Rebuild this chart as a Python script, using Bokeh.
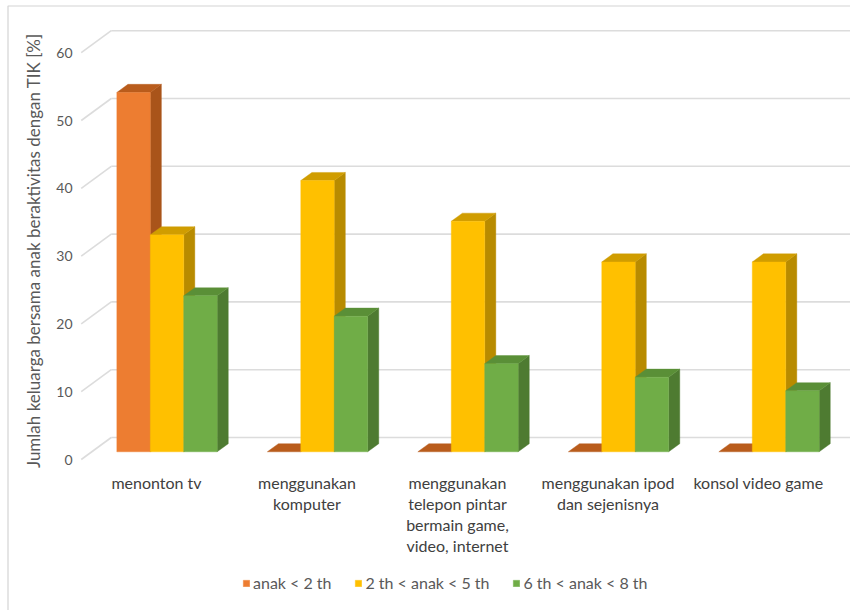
import math
from bokeh.plotting import figure
from bokeh.models import Range1d, Legend, LegendItem, ColumnDataSource
from bokeh.core.properties import value
from bokeh.embed import file_html
from bokeh.resources import INLINE

# ---- data -----------------------------------------------------------------
categories = [
    "menonton tv",
    "menggunakan\nkomputer",
    "menggunakan\ntelepon pintar\nbermain game,\nvideo, internet",
    "menggunakan ipod\ndan sejenisnya",
    "konsol video game",
]
series_names = ["anak < 2 th", "2 th < anak < 5 th", "6 th < anak < 8 th"]
anak_under_2 = [53, 0, 0, 0, 0]
anak_2_to_5 = [32, 40, 34, 28, 28]
anak_6_to_8 = [23, 20, 13, 11, 9]
y_ticks = [0, 10, 20, 30, 40, 50, 60]
y_title = "Jumlah keluarga bersama anak beraktivitas dengan TIK [%]"

# face colours: front, top, side
front_colors = ["#ED7D31", "#FFC000", "#70AD47"]
top_colors = ["#B95C1C", "#D09D00", "#5A8F37"]
side_colors = ["#A9541A", "#B88B00", "#4E7B31"]

# ---- geometry of the oblique 3-D view ---------------------------------------
W, H = 850, 610
CAT_PX = 150.5      # width of one category slot, px
UNIT_PX = 6.78      # px per percentage point
X0_PX = 156         # centre of the first category on the front plane
Y0_PX = 459         # zero level on the front plane


def px_x(px):
    return (px - X0_PX) / CAT_PX


def px_y(py):
    return (Y0_PX - py) / UNIT_PX


DEPTH_DX = 30 / CAT_PX          # full floor depth, in category units
DEPTH_DY = 22 / UNIT_PX         # full floor depth, in value units
BAR_FRONT, BAR_BACK = 0.35, 0.72
BAR_W = 2 / 9                   # three bars fill two thirds of a slot

p = figure(width=W, height=H, output_backend="svg", toolbar_location=None,
           x_range=Range1d(px_x(0), px_x(W)), y_range=Range1d(px_y(H), px_y(0)),
           x_axis_type=None, y_axis_type=None, min_border=0,
           background_fill_color="white", border_fill_color="white")
p.outline_line_color = None
p.grid.visible = False

# outer chart border (left and top edges)
p.line(x=[px_x(7.5), px_x(7.5), px_x(W)], y=[px_y(H), px_y(5.5), px_y(5.5)],
       line_color="#D4D4D4", line_width=1.2)

# back-wall gridlines and left-wall slant lines
grid_color = "#DCDCDC"
p.multi_line(
    xs=[[-0.5 + DEPTH_DX, len(categories) + 0.5] for _ in y_ticks],
    ys=[[v + DEPTH_DY, v + DEPTH_DY] for v in y_ticks],
    line_color=grid_color, line_width=1.6)
p.multi_line(
    xs=[[-0.5, -0.5 + DEPTH_DX] for _ in y_ticks],
    ys=[[v, v + DEPTH_DY] for v in y_ticks],
    line_color=grid_color, line_width=1.6)

# value tick labels on the front plane
p.text(x=[-0.5 - 0.058] * len(y_ticks), y=y_ticks, text=[str(v) for v in y_ticks],
       text_align="right", text_baseline="middle", text_color="#595959",
       text_font=value("Lato"), text_font_size="14px")

# rotated value-axis title
p.text(x=[px_x(33)], y=[30.8], text=[y_title], angle=math.pi / 2,
       text_align="center", text_baseline="middle", text_color="#595959",
       text_font=value("Lato"), text_font_size="17px")

# ---- 3-D columns --------------------------------------------------------------
series = [anak_under_2, anak_2_to_5, anak_6_to_8]
fx, fy = BAR_FRONT * DEPTH_DX, BAR_FRONT * DEPTH_DY
bx, by = BAR_BACK * DEPTH_DX, BAR_BACK * DEPTH_DY

xs, ys, fills = [], [], []
legend_index = {}
for i in range(len(categories)):
    for s, vals in enumerate(series):
        v = vals[i]
        xc = i + (s - 1) * BAR_W
        l, r = xc - BAR_W / 2, xc + BAR_W / 2
        if v > 0:
            # right side face
            xs.append([r + fx, r + bx, r + bx, r + fx])
            ys.append([fy, by, v + by, v + fy])
            fills.append(side_colors[s])
        # top face
        xs.append([l + fx, r + fx, r + bx, l + bx])
        ys.append([v + fy, v + fy, v + by, v + by])
        fills.append(top_colors[s])
        if v > 0:
            # front face
            xs.append([l + fx, r + fx, r + fx, l + fx])
            ys.append([fy, fy, v + fy, v + fy])
            fills.append(front_colors[s])
            legend_index.setdefault(s, len(fills) - 1)

bars = p.patches(xs="xs", ys="ys", fill_color="fill", line_color="fill", line_width=0.4,
                 source=ColumnDataSource(dict(xs=xs, ys=ys, fill=fills)))

# category labels centred under each slot
p.text(x=list(range(len(categories))), y=[px_y(472)] * len(categories), text=categories,
       text_align="center", text_baseline="top", text_color="#404040",
       text_font=value("Lato"), text_font_size="16px", text_line_height=1.11)

# ---- legend -------------------------------------------------------------------
legend = Legend(
    items=[LegendItem(label=name, renderers=[bars], index=legend_index[s])
           for s, name in enumerate(series_names)],
    orientation="horizontal", location=(242, 18),
    glyph_width=8, glyph_height=8, label_standoff=3, spacing=23, padding=0, margin=0,
    label_text_font="Lato", label_text_font_size="16px", label_text_color="#595959",
    border_line_color=None, background_fill_alpha=0)
p.add_layout(legend)

open("out.html", "w").write(file_html(p, INLINE))
